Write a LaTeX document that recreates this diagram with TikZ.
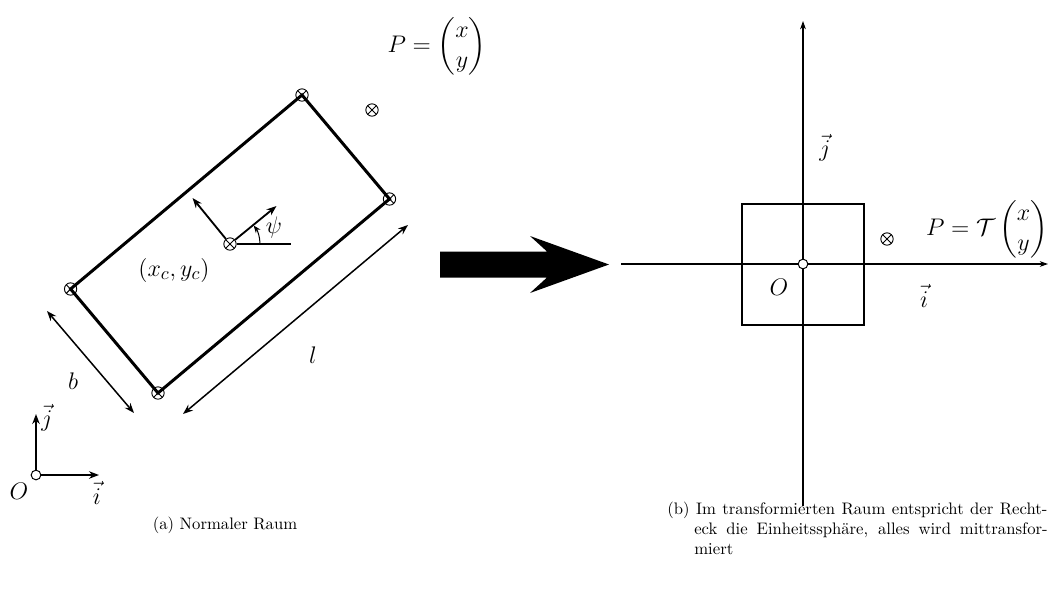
\documentclass[tikz,border=0pt]{standalone}
\usepackage{amsmath}
\usetikzlibrary{arrows.meta}
\begin{document}
\begin{tikzpicture}[x=0.6pt,y=-0.6pt,
  lab/.style={font=\fontsize{15}{18}\selectfont, inner sep=0pt},
  mk/.style={circle, draw, line width=0.55pt, minimum size=7.4pt, inner sep=0pt,
    path picture={\draw[line width=0.55pt] (path picture bounding box.north west) -- (path picture bounding box.south east)
      (path picture bounding box.north east) -- (path picture bounding box.south west);}},
  captext/.style={font=\fontsize{10}{12}\selectfont, anchor=base west, inner sep=0pt},
  orig/.style={circle, draw, fill=white, line width=0.6pt, minimum size=5.8pt, inner sep=0pt},
  rectline/.style={line width=1.8pt, line join=miter},
  midarr/.style={-{Stealth[length=6pt,width=4.5pt]}, line width=1.1pt},
  dimarr/.style={{Stealth[length=6pt,width=4.5pt]}-{Stealth[length=6pt,width=4.5pt]}, line width=0.9pt},
  axisline/.style={-{Stealth[length=5pt,width=3.5pt]}, line width=0.7pt},
  sqline/.style={line width=1.7pt}]
\useasboundingbox (0,0) rectangle (1051,605);

% ---- left: rectangle ----
\coordinate (C) at (230,244);
\coordinate (T) at (302,95);
\coordinate (R) at (389.5,199);
\coordinate (B) at (158,393);
\coordinate (L) at (70.6,289);
\draw[rectline] (T) -- (R) -- (B) -- (L) -- cycle;
\node[mk] (mT) at (T) {};
\node[mk] (mR) at (R) {};
\node[mk] (mB) at (B) {};
\node[mk] (mL) at (L) {};
\node[mk] (mC) at (C) {};

% local axes
\coordinate (ax1) at (276.5,206);
\coordinate (ax2) at (192.5,198);
\coordinate (hz) at (291,244);
\draw[midarr] (mC) -- (ax1);
\draw[midarr] (mC) -- (ax2);
\draw[line width=0.9pt] (mC) -- (hz);
\draw[-{Stealth[length=4.5pt,width=3.5pt]}, line width=0.6pt] (260,244) arc[start angle=0, end angle=-38, radius=30];
\node[lab] (psi) at (274,227) {$\psi$};
\node[lab] (xcyc) at (174,270) {$(x_c,y_c)$};

% dimensions
\coordinate (l1) at (408,225);
\coordinate (l2) at (183,414);
\draw[dimarr] (l1) -- (l2);
\node[lab] (ll) at (313,355) {$l$};
\coordinate (b1) at (47,311);
\coordinate (b2) at (134,413);
\draw[dimarr] (b1) -- (b2);
\node[lab] (bl) at (73,381) {$b$};

% point P
\node[mk] (mP) at (372,110) {};
\node[lab] (Pl) at (437,46) {$P=\begin{pmatrix}x\\y\end{pmatrix}$};

% origin left
\node[orig] (O1) at (36,475) {};
\coordinate (j1) at (36,414);
\coordinate (i1) at (99,475);
\draw[midarr] (O1) -- (j1);
\draw[midarr] (O1) -- (i1);
\node[lab] (O1l) at (19,491) {$O$};
\node[lab] (i1l) at (97,493) {$\vec{i}$};
\node[lab] (j1l) at (47,418) {$\vec{j}$};

% big arrow
\fill (440,251.5) -- (547,251.5) -- (530,236) -- (609,264.5) -- (530,293) -- (547,277.5) -- (440,277.5) -- cycle;

% ---- right ----
\coordinate (hx0) at (621,264);
\coordinate (hx1) at (1048,264);
\coordinate (vy0) at (803,506);
\coordinate (vy1) at (803,21);
\draw[axisline] (hx0) -- (hx1);
\draw[axisline] (vy0) -- (vy1);
\draw[sqline] (742,204) rectangle (864,325);
\node[orig] (O2) at (803,264) {};
\node[mk] (mP2) at (887,239) {};
\node[lab] (P2l) at (987,229) {$P=\mathcal{T}\begin{pmatrix}x\\y\end{pmatrix}$};
\node[lab] (O2l) at (779,287) {$O$};
\node[lab] (i2l) at (924,296) {$\vec{i}$};
\node[lab] (j2l) at (825,148) {$\vec{j}$};

% captions
\node[captext, anchor=base] (capa) at (225,529) {(a) Normaler Raum};
\node[captext] (capb1) at (667,514) {\makebox[228pt][s]{(b) Im transformierten Raum entspricht der Recht-}};
\node[captext] (capb2) at (694,534) {\makebox[212pt][s]{eck die Einheitssphäre, alles wird mittransfor-}};
\node[captext] (capb3) at (694,554) {miert};
\end{tikzpicture}
\end{document}
